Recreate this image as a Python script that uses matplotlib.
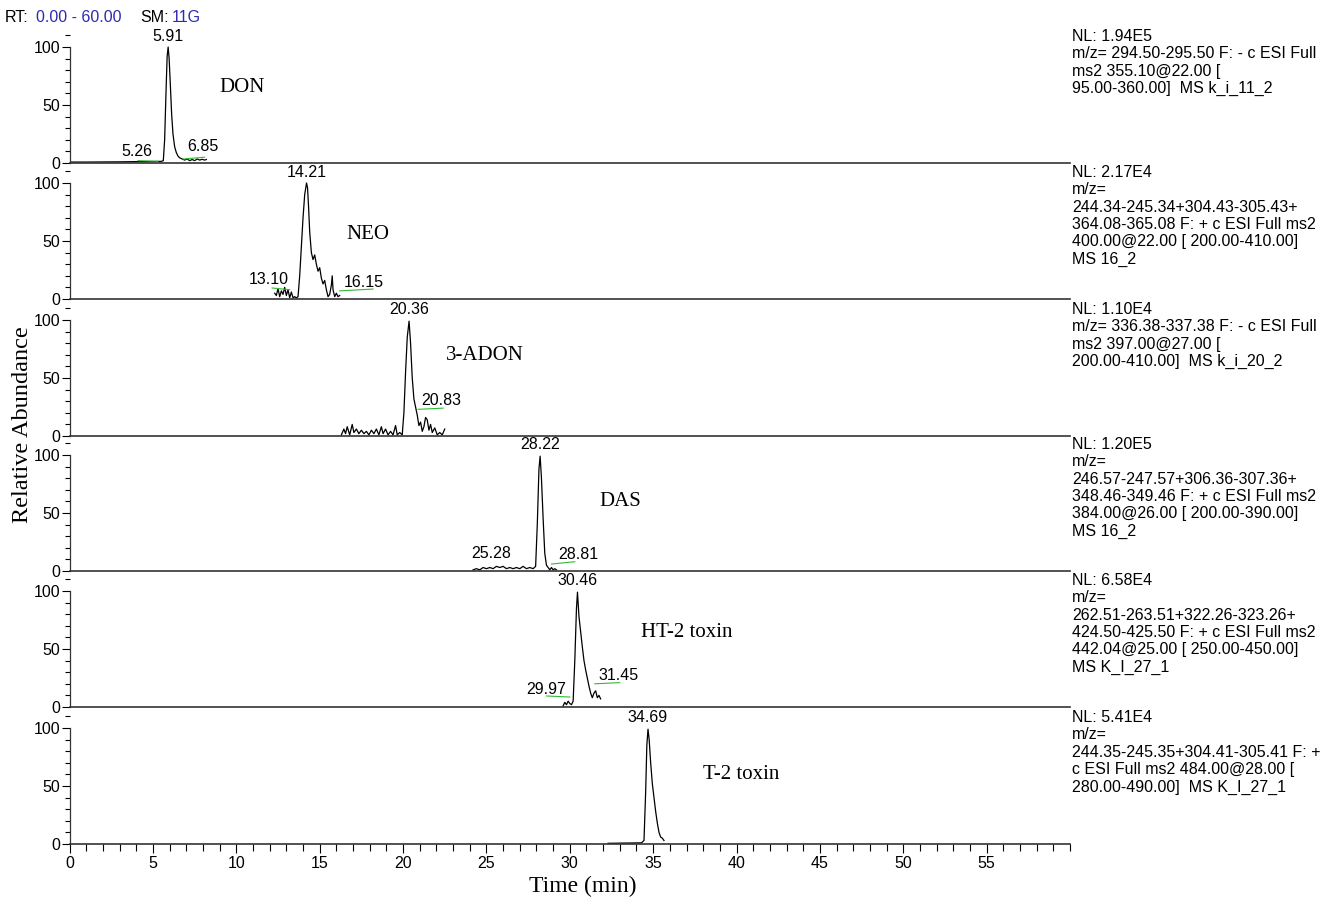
import numpy as np
import matplotlib
matplotlib.use("Agg")
from matplotlib import pyplot as plt
from matplotlib.ticker import MultipleLocator
from matplotlib.transforms import offset_copy

# ---- data ----
don_t = [0.0, 1.0, 2.0, 3.0, 4.0, 5.0, 5.5, 5.62, 5.7, 5.78, 5.85, 5.91, 5.97, 6.05, 6.12, 6.2,
         6.3, 6.4, 6.5, 6.6, 6.75, 6.9, 7.05, 7.2, 7.35, 7.5, 7.65, 7.8, 7.95, 8.1, 8.2]
don_y = [0.8, 0.8, 0.9, 1.0, 1.2, 1.3, 1.4, 2, 20, 60, 92, 100, 90, 65, 42, 25,
         14, 9, 6, 4.5, 3.5, 2.5, 3.5, 2, 3, 2, 3.5, 2.5, 3.2, 2.5, 3]

neo_t = [12.3, 12.4, 12.5, 12.6, 12.7, 12.8, 12.9, 13.0, 13.1, 13.2, 13.3, 13.4, 13.5, 13.6, 13.7,
         13.8, 13.9, 14.0, 14.1, 14.21, 14.27, 14.33, 14.4, 14.5, 14.6, 14.7, 14.8, 14.9, 15.0,
         15.1, 15.2, 15.3, 15.4, 15.5, 15.6, 15.7, 15.75, 15.8, 15.9, 16.0, 16.1, 16.2]
neo_y = [5, 3, 9, 2, 7, 4, 10, 3, 8, 1, 6, 1, 2, 1, 2,
         20, 45, 70, 90, 100, 96, 80, 58, 40, 34, 38, 30, 24, 27,
         18, 13, 16, 8, 2, 4, 12, 20, 8, 2, 5, 2, 3]

adon_t = [16.3, 16.45, 16.55, 16.65, 16.8, 16.95, 17.05, 17.2, 17.35, 17.5, 17.65, 17.8, 17.95,
          18.1, 18.25, 18.4, 18.55, 18.7, 18.8, 18.95, 19.1, 19.25, 19.4, 19.55, 19.65, 19.8,
          19.95, 20.05, 20.15, 20.25, 20.36, 20.45, 20.55, 20.65, 20.75, 20.85, 20.95, 21.05,
          21.15, 21.25, 21.35, 21.45, 21.55, 21.65, 21.75, 21.9, 22.05, 22.2, 22.35, 22.5]
adon_y = [1, 6, 2, 8, 1, 10, 3, 6, 2, 5, 2, 4, 1,
          5, 2, 6, 1, 8, 2, 6, 1, 4, 1, 9, 1, 3,
          1, 20, 55, 85, 99, 80, 50, 32, 25, 18, 9, 12,
          4, 8, 16, 14, 5, 10, 3, 7, 1, 3, 1, 6]

das_t = [24.2, 24.4, 24.6, 24.8, 25.0, 25.2, 25.4, 25.6, 25.8, 26.0, 26.2, 26.4, 26.6, 26.8, 27.0,
         27.2, 27.4, 27.6, 27.8, 27.95, 28.05, 28.15, 28.22, 28.3, 28.4, 28.5, 28.6, 28.7, 28.8,
         28.9, 29.0, 29.1, 29.2]
das_y = [1, 2, 1, 3, 2, 3, 2, 4, 3, 4, 2, 3, 2, 3, 2,
         4, 2, 3, 2, 4, 40, 88, 99, 80, 45, 15, 5, 3, 1,
         3, 1, 2, 1]

ht2_t = [29.6, 29.7, 29.8, 29.9, 30.0, 30.1, 30.2, 30.3, 30.4, 30.46, 30.55, 30.65, 30.75, 30.85,
         30.95, 31.05, 31.15, 31.25, 31.35, 31.45, 31.55, 31.65, 31.75, 31.85]
ht2_y = [1, 4, 2, 5, 3, 2, 5, 40, 85, 99, 78, 65, 52, 40,
         32, 25, 18, 12, 8, 12, 14, 8, 10, 7]

t2_t = [32.3, 32.8, 33.3, 33.8, 34.3, 34.45, 34.55, 34.62, 34.69, 34.76, 34.85, 34.95, 35.05,
        35.15, 35.25, 35.35, 35.45, 35.55, 35.65]
t2_y = [0.6, 0.7, 0.8, 0.9, 1.0, 3, 45, 85, 99, 90, 70, 52, 40,
        28, 18, 10, 6, 5, 3]

compounds = ["DON", "NEO", "3-ADON", "DAS", "HT-2 toxin", "T-2 toxin"]
compound_pos = [(9.0, 65), (16.6, 56), (22.6, 69), (31.8, 60), (34.3, 64), (38.0, 59.5)]

peak_rt = [5.91, 14.21, 20.36, 28.22, 30.46, 34.69]

# side labels: (text, x, y) and green baseline marks: (t0, t1, y0, y1)
side_labels = [
    [("5.26", 4.04, 9.5), ("6.85", 8.0, 14)],
    [("13.10", 11.96, 16.4), ("16.15", 17.66, 13.8)],
    [("20.83", 22.3, 31)],
    [("25.28", 25.3, 15), ("28.81", 30.5, 14)],
    [("29.97", 28.6, 15.5), ("31.45", 32.9, 27)],
    [],
]
green_marks = [
    [(4.1, 5.3, 2.0, 1.5), (6.8, 8.1, 3.4, 5.0)],
    [(12.15, 13.2, 9.5, 8.0), (16.2, 18.2, 7.0, 8.6)],
    [(20.9, 22.4, 23, 24)],
    [(28.9, 30.3, 6, 8)],
    [(28.6, 30.0, 9.5, 8.6), (31.5, 33.0, 20, 21)],
    [],
]

info = [
    "NL: 1.94E5\nm/z= 294.50-295.50 F: - c ESI Full\nms2 355.10@22.00 [\n95.00-360.00]  MS k_i_11_2",
    "NL: 2.17E4\nm/z=\n244.34-245.34+304.43-305.43+\n364.08-365.08 F: + c ESI Full ms2\n"
    "400.00@22.00 [ 200.00-410.00]\nMS 16_2",
    "NL: 1.10E4\nm/z= 336.38-337.38 F: - c ESI Full\nms2 397.00@27.00 [\n200.00-410.00]  MS k_i_20_2",
    "NL: 1.20E5\nm/z=\n246.57-247.57+306.36-307.36+\n348.46-349.46 F: + c ESI Full ms2\n"
    "384.00@26.00 [ 200.00-390.00]\nMS 16_2",
    "NL: 6.58E4\nm/z=\n262.51-263.51+322.26-323.26+\n424.50-425.50 F: + c ESI Full ms2\n"
    "442.04@25.00 [ 250.00-450.00]\nMS K_I_27_1",
    "NL: 5.41E4\nm/z=\n244.35-245.35+304.41-305.41 F: +\nc ESI Full ms2 484.00@28.00 [\n"
    "280.00-490.00]  MS K_I_27_1",
]

traces = [(don_t, don_y), (neo_t, neo_y), (adon_t, adon_y),
          (das_t, das_y), (ht2_t, ht2_y), (t2_t, t2_y)]

# ---- layout ----
sans = "Liberation Sans"
serif = "Liberation Serif"
W, H = 1336, 900
fig = plt.figure(figsize=(W / 100, H / 100), dpi=100)

left_px, right_px = 69.6, 1070
bottoms_px = [163, 299, 436, 571, 707, 844]
panel_h = 136.2
ytop = 100 * panel_h / 116
fs = 11.5

for i, (t, y) in enumerate(traces):
    b = bottoms_px[i]
    ax = fig.add_axes([left_px / W, 1 - b / H, (right_px - left_px) / W, panel_h / H])
    ax.patch.set_visible(False)
    ax.plot(t, y, color="black", lw=0.9)
    ax.set_xlim(0, 60)
    ax.set_ylim(0, ytop)

    for s in ["top", "right"]:
        ax.spines[s].set_visible(False)
    ax.spines["left"].set_bounds(0, 100)
    ax.spines["left"].set_color("#333333")
    ax.spines["bottom"].set_color("#333333")
    ax.spines["left"].set_linewidth(0.9)
    ax.spines["bottom"].set_linewidth(1.2)

    ax.yaxis.set_major_locator(MultipleLocator(50))
    ax.yaxis.set_minor_locator(MultipleLocator(10))
    ax.tick_params(axis="y", which="major", length=6, width=0.8, labelsize=fs, pad=1)
    ax.tick_params(axis="y", which="minor", length=3.5, width=0.8)
    for lab in ax.get_yticklabels():
        lab.set_fontfamily(sans)

    if i == len(traces) - 1:
        ax.xaxis.set_minor_locator(MultipleLocator(1))
        ax.set_xticks(np.arange(0, 60, 5))
        ax.tick_params(axis="x", which="major", length=6.5, width=0.8, labelsize=fs, pad=2)
        ax.tick_params(axis="x", which="minor", length=5, width=0.8)
        for lab in ax.get_xticklabels():
            lab.set_fontfamily(sans)
    else:
        ax.set_xticks([])

    # peak apex label
    ax.text(peak_rt[i], 108.8, f"{peak_rt[i]:.2f}", ha="center", va="center",
            fontsize=fs, family=sans, clip_on=False)
    for txt, tx, ty in side_labels[i]:
        ax.text(tx, ty, txt, ha="center", va="center", fontsize=fs, family=sans)
    for t0, t1, g0, g1 in green_marks[i]:
        ax.plot([t0, t1], [g0, g1], color="#33bb33", lw=0.8)

    name, (cx, cy) = compounds[i], compound_pos[i]
    ax.text(cx, cy, name, ha="left", va="center", fontsize=15, family=serif)

    tr = offset_copy(ax.transAxes, fig=fig, x=2, y=-2, units="dots")
    ax.text(1.0, 1.0, info[i], transform=tr, ha="left", va="top",
            fontsize=fs, family=sans, linespacing=1.2)

# header
hy = 1 - 18 / H
fig.text(5 / W, hy, "RT:", fontsize=fs, family=sans, va="center")
fig.text(36 / W, hy, "0.00 - 60.00", fontsize=fs, family=sans, va="center", color="#2b2bb0")
fig.text(140 / W, hy, "SM:", fontsize=fs, family=sans, va="center")
fig.text(172 / W, hy, "11G", fontsize=fs, family=sans, va="center", color="#2b2bb0")

fig.text(583 / W, 1 - 886 / H, "Time (min)", ha="center", va="center", fontsize=17, family=serif)
fig.text(22 / W, 1 - 425 / H, "Relative Abundance", ha="center", va="center",
         rotation=90, fontsize=17.5, family=serif)

fig.savefig("out.png", dpi=100)
